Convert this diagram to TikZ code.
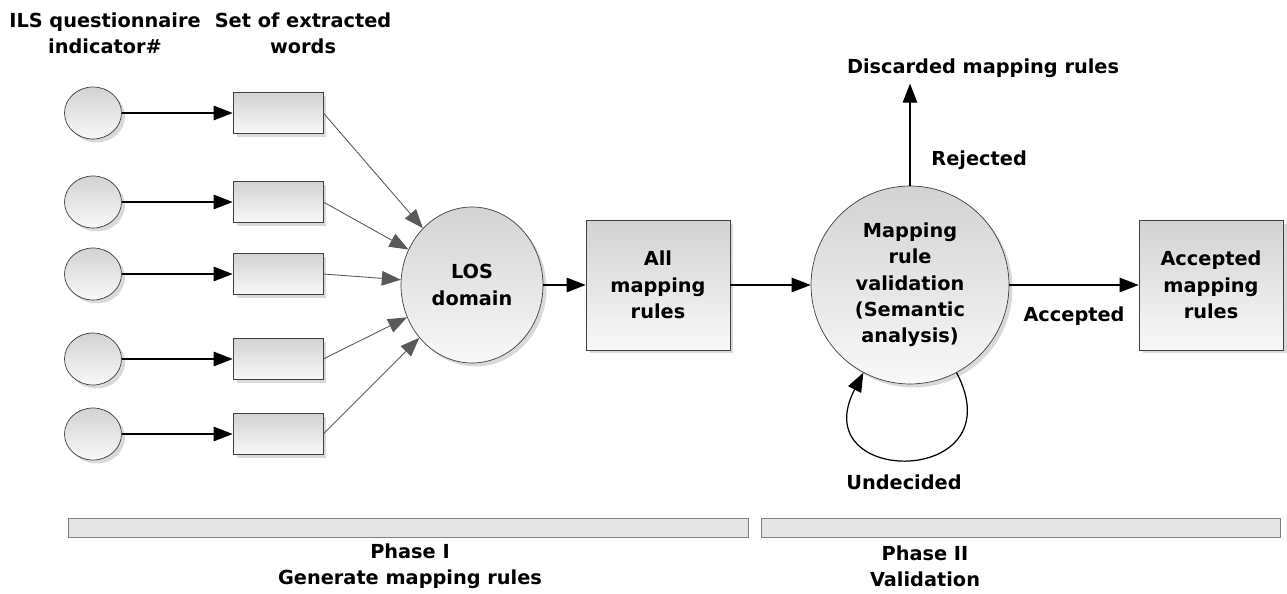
\documentclass[tikz,border=0pt]{standalone}
\usepackage{fontspec}
\setmainfont{DejaVu Sans}
\usetikzlibrary{arrows.meta,positioning,shapes.geometric,shadows}

\begin{document}
\begin{tikzpicture}[
  x=0.02cm, y=-0.02cm,
  font=\fontsize{11}{15}\selectfont\bfseries,
  shaded/.style={draw=black!75, top color=gray!35, bottom color=gray!5,
    drop shadow={opacity=0.3, shadow xshift=0.7mm, shadow yshift=-0.7mm}},
  ind/.style={shaded, ellipse, minimum width=1.14cm, minimum height=1.04cm, inner sep=0pt},
  wordbox/.style={shaded, minimum width=1.8cm, minimum height=0.82cm, inner sep=0pt},
  rulebox/.style={shaded, align=center, minimum width=2.88cm, minimum height=2.6cm},
  bar/.style={draw=gray, fill=gray!20, minimum height=0.38cm, inner sep=0pt},
  arrow/.style={-{Triangle[length=3.8mm, width=2.9mm]}, line width=0.7pt},
  thinarrow/.style={arrow, draw=black!65, line width=0.5pt}
]
\useasboundingbox (0,0) rectangle (1287,594);
\node[align=center] (indlabel) at (105,33) {ILS questionnaire\\indicator\#};
\node[align=center] (wordslabel) at (303,33) {Set of extracted\\words};
\node[ind] (ind1) at (93,113) {};
\node[ind] (ind2) at (93,202) {};
\node[ind] (ind3) at (93,274) {};
\node[ind] (ind4) at (93,359) {};
\node[ind] (ind5) at (93,434) {};
\node[wordbox] (words1) at (278,113) {};
\node[wordbox] (words2) at (278,202) {};
\node[wordbox] (words3) at (278,274) {};
\node[wordbox] (words4) at (278,359) {};
\node[wordbox] (words5) at (278,434) {};
\node[shaded, ellipse, align=center, inner sep=0pt, minimum width=2.84cm,
  minimum height=3.12cm] (los) at (472,285) {LOS\\domain};
\node[rulebox] (allrules) at (658,285) {All\\mapping\\rules};
\node[shaded, circle, align=center, inner sep=0pt, minimum size=3.96cm]
  (validation) at (910,285) {Mapping\\rule\\validation\\(Semantic\\analysis)};
\node[rulebox] (accepted) at (1211,285) {Accepted\\mapping\\rules};
\node (discarded) at (983,68) {Discarded mapping rules};
\node (undecided) at (904,482) {Undecided};
\node[bar, minimum width=13.6cm] (phase1bar) at (408,527.5) {};
\node[bar, minimum width=10.38cm] (phase2bar) at (1020.5,527.5) {};
\node[align=center] (phase1) at (410,566) {Phase I\\Generate mapping rules};
\node[align=center] (phase2) at (925,566) {Phase II\\Validation};
\draw[arrow] (ind1) -- (words1);
\draw[arrow] (ind2) -- (words2);
\draw[arrow] (ind3) -- (words3);
\draw[arrow] (ind4) -- (words4);
\draw[arrow] (ind5) -- (words5);
\draw[thinarrow] (words1.east) -- (los);
\draw[thinarrow] (words2.east) -- (los);
\draw[thinarrow] (words3.east) -- (los);
\draw[thinarrow] (words4.east) -- (los);
\draw[thinarrow] (words5.east) -- (los);
\draw[arrow] (los) -- (allrules);
\draw[arrow] (allrules) -- (validation);
\draw[arrow] (validation) -- node[below=0.3cm] {Accepted} (accepted);
\draw[arrow] (validation.north) -- node[pos=0.25, right=0.3cm] {Rejected}
  (validation.north |- discarded.south);
\draw[arrow] (validation.-62) .. controls +(60,115) and +(-60,115) .. (validation.-118);
\end{tikzpicture}
\end{document}
